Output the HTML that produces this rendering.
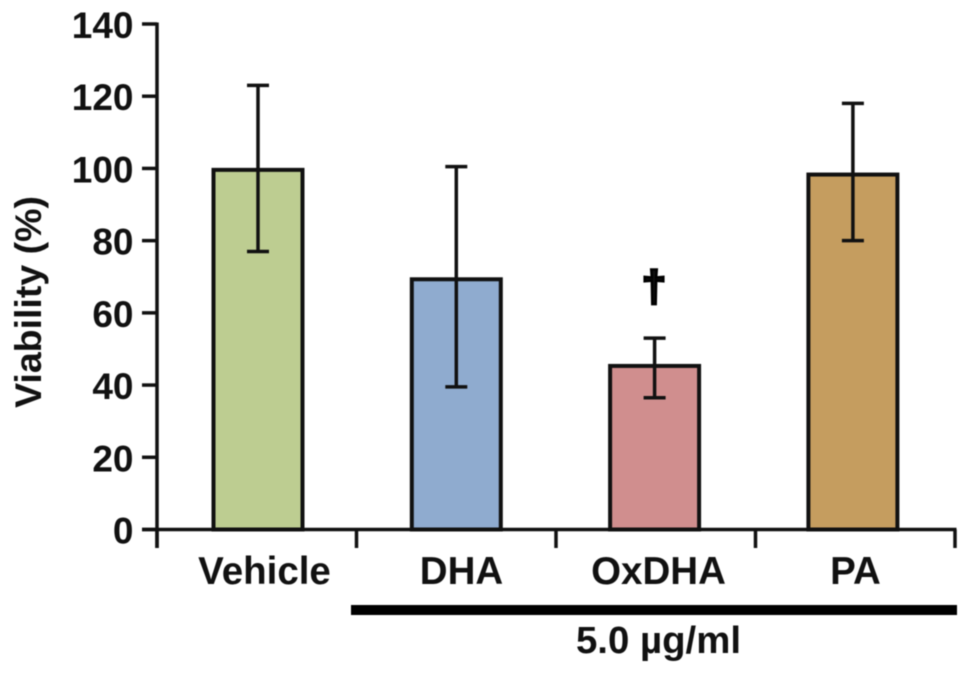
<!DOCTYPE html>
<html lang="en">
<head>
<meta charset="utf-8">
<title>Viability bar chart</title>
<style>
html,body{margin:0;padding:0;background:#fff;}
svg{display:block;filter:blur(0.6px);}
text{font-family:"Liberation Sans",Arial,sans-serif;font-weight:bold;fill:#111;}
</style>
</head>
<body>
<svg id="chart" width="969" height="674" viewBox="0 0 969 674" xmlns="http://www.w3.org/2000/svg"></svg>
<script>
const categories = ['Vehicle', 'DHA', 'OxDHA', 'PA'];
const values = [99.6, 69.3, 45.3, 98.3];
const errorHigh = [123, 100.5, 53, 118];
const errorLow = [77, 39.5, 36.5, 80];
const barColors = ['#bdcd91', '#8fabcf', '#d08e8e', '#c59d5f'];
const yTicks = [0, 20, 40, 60, 80, 100, 120, 140];

const svg = document.getElementById('chart');
const NS = 'http://www.w3.org/2000/svg';
const y0 = 529.5, yTop = 24, yMax = 140;
const axisX = 157, axisEnd = 955;
function yScale(v) { return y0 - (v / yMax) * (y0 - yTop); }
function xCenter(i) { return 258 + 198.3 * i; }
function xLabelCenter(i) { return 264.5 + 197 * i; }
function xBoundary(i) { return axisX + (axisEnd - axisX) * i / categories.length; }
function make(tag, attrs, text) {
  const el = document.createElementNS(NS, tag);
  for (const k in attrs) el.setAttribute(k, attrs[k]);
  if (text !== undefined) el.textContent = text;
  svg.appendChild(el);
  return el;
}
function line(x1, y1, x2, y2, w) {
  return make('line', { x1: x1, y1: y1, x2: x2, y2: y2, stroke: '#111', 'stroke-width': w });
}

// bars and error bars
categories.forEach(function (c, i) {
  const cx = xCenter(i), bw = 89;
  const bar = make('rect', { x: cx - bw / 2, y: yScale(values[i]), width: bw, height: y0 - yScale(values[i]), fill: barColors[i], stroke: '#111', 'stroke-width': 4 });
  
  

  const stem = line(cx, yScale(errorHigh[i]), cx, yScale(errorLow[i]), 3.5);
  
  
  const capHigh = line(cx - 11, yScale(errorHigh[i]), cx + 11, yScale(errorHigh[i]), 3.5);
  
  
  const capLow = line(cx - 11, yScale(errorLow[i]), cx + 11, yScale(errorLow[i]), 3.5);
  
  

  const label = make('text', { x: xLabelCenter(i), y: 584, 'font-size': 38.5, 'text-anchor': 'middle' }, c);
  
  
});

// y axis
const yAxis = line(axisX, yTop - 1.5, axisX, 548, 3.5);


yTicks.forEach(function (t) {
  const tick = line(axisX - 15, yScale(t), axisX, yScale(t), 3.5);
  
  
  const label = make('text', { x: 133.5, y: yScale(t) + 14, 'font-size': 37, 'text-anchor': 'end' }, String(t));
  
  
});

// x axis
const xAxis = line(axisX - 15, y0, axisEnd + 1.5, y0, 3.5);


for (let i = 0; i <= categories.length; i++) {
  const tick = line(xBoundary(i), y0, xBoundary(i), 548, 3.5);
  
  
}

// y axis title
const yTitle = make('text', { x: 0, y: 0, 'font-size': 37.5, 'text-anchor': 'middle', transform: 'translate(41 302) rotate(-90)' }, 'Viability (%)');



// significance marker
const dagger = make('text', { x: 654, y: 301, 'font-size': 44, 'text-anchor': 'middle', stroke: '#000', 'stroke-width': 2.6 }, '\u2020');



// dose bracket
const doseBar = make('rect', { x: 351, y: 605, width: 606, height: 10, fill: '#000' });


const doseLabel = make('text', { x: 658.5, y: 653, 'font-size': 38.4, 'text-anchor': 'middle' }, '5.0 \u00b5g/ml');


</script>
</body>
</html>
